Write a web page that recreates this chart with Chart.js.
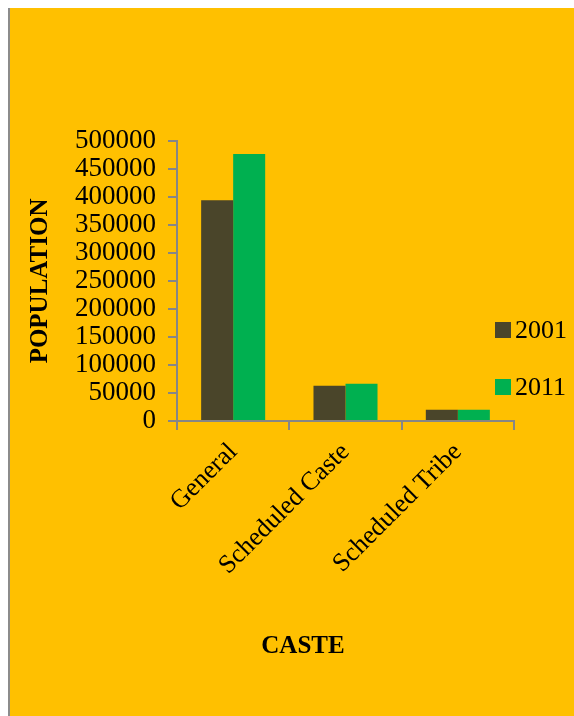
<!DOCTYPE html>
<html>
<head>
<meta charset="utf-8">
<script src="https://cdn.jsdelivr.net/npm/chart.js@4"></script>
<style>
  html, body { margin: 0; padding: 0; background: #fff; }
  #frame {
    position: absolute; left: 8px; top: 8px;
    width: 564px; height: 708px;
    border-left: 2px solid #8c8c8c;
    background: #FFC000;
  }
  canvas { display: block; }
</style>
</head>
<body>
<div id="frame"><canvas id="chart" width="564" height="708"></canvas></div>
<script>
const categories = ['General', 'Scheduled Caste', 'Scheduled Tribe'];
const pop2001 = [394000, 63000, 20000];
const pop2011 = [477000, 66500, 20000];
const seriesLabels = ['2001', '2011'];
const seriesColors = ['#4A452A', '#00B050'];
const xTitle = 'CASTE';

const axisGray = '#868686';
const serif = "'Liberation Serif', 'Times New Roman', serif";

// legend + x title drawn by hand so they sit where the original has them
const sideLegend = {
    id: 'sideLegend',
    afterDraw(chart) {
        const ctx = chart.ctx;
        ctx.save();
        ctx.font = '26px ' + serif;
        ctx.textBaseline = 'middle';
        chart.data.datasets.forEach((ds, i) => {
            const y = 322 + i * 57;
            ctx.fillStyle = ds.backgroundColor;
            ctx.fillRect(485, y - 8, 16, 16);
            ctx.fillStyle = '#000';
            ctx.fillText(ds.label, 505, y + 1);
        });
        ctx.font = 'bold 25px ' + serif;
        ctx.textAlign = 'center';
        ctx.fillText(xTitle, 293, 639);
        ctx.restore();
    }
};

const ctx = document.getElementById('chart').getContext('2d');
new Chart(ctx, {
    type: 'bar',
    data: {
        labels: categories,
        datasets: [
            { label: seriesLabels[0], data: pop2001, backgroundColor: seriesColors[0] },
            { label: seriesLabels[1], data: pop2011, backgroundColor: seriesColors[1] }
        ]
    },
    options: {
        responsive: false,
        animation: false,
        categoryPercentage: 0.57,
        barPercentage: 1.0,
        layout: { padding: { top: 133, left: 16, right: 60, bottom: 128 } },
        plugins: {
            legend: { display: false },
            tooltip: { enabled: false }
        },
        scales: {
            x: {
                grid: { drawOnChartArea: false, drawTicks: true, tickLength: 9, color: axisGray, lineWidth: 2 },
                border: { color: axisGray, width: 2 },
                ticks: { color: '#000', font: { family: serif, size: 26 }, minRotation: 45, maxRotation: 45, padding: 7, autoSkip: false }
            },
            y: {
                min: 0,
                max: 500000,
                grid: { drawOnChartArea: false, drawTicks: true, tickLength: 9, color: axisGray, lineWidth: 2 },
                border: { color: axisGray, width: 2 },
                ticks: { stepSize: 50000, color: '#000', font: { family: serif, size: 27 }, padding: 12, autoSkip: false, callback: v => String(v) },
                title: { display: true, text: 'POPULATION', color: '#000', font: { family: serif, size: 25, weight: 'bold' }, padding: { top: 0, bottom: 7 } }
            }
        }
    },
    plugins: [sideLegend]
});
</script>
</body>
</html>
